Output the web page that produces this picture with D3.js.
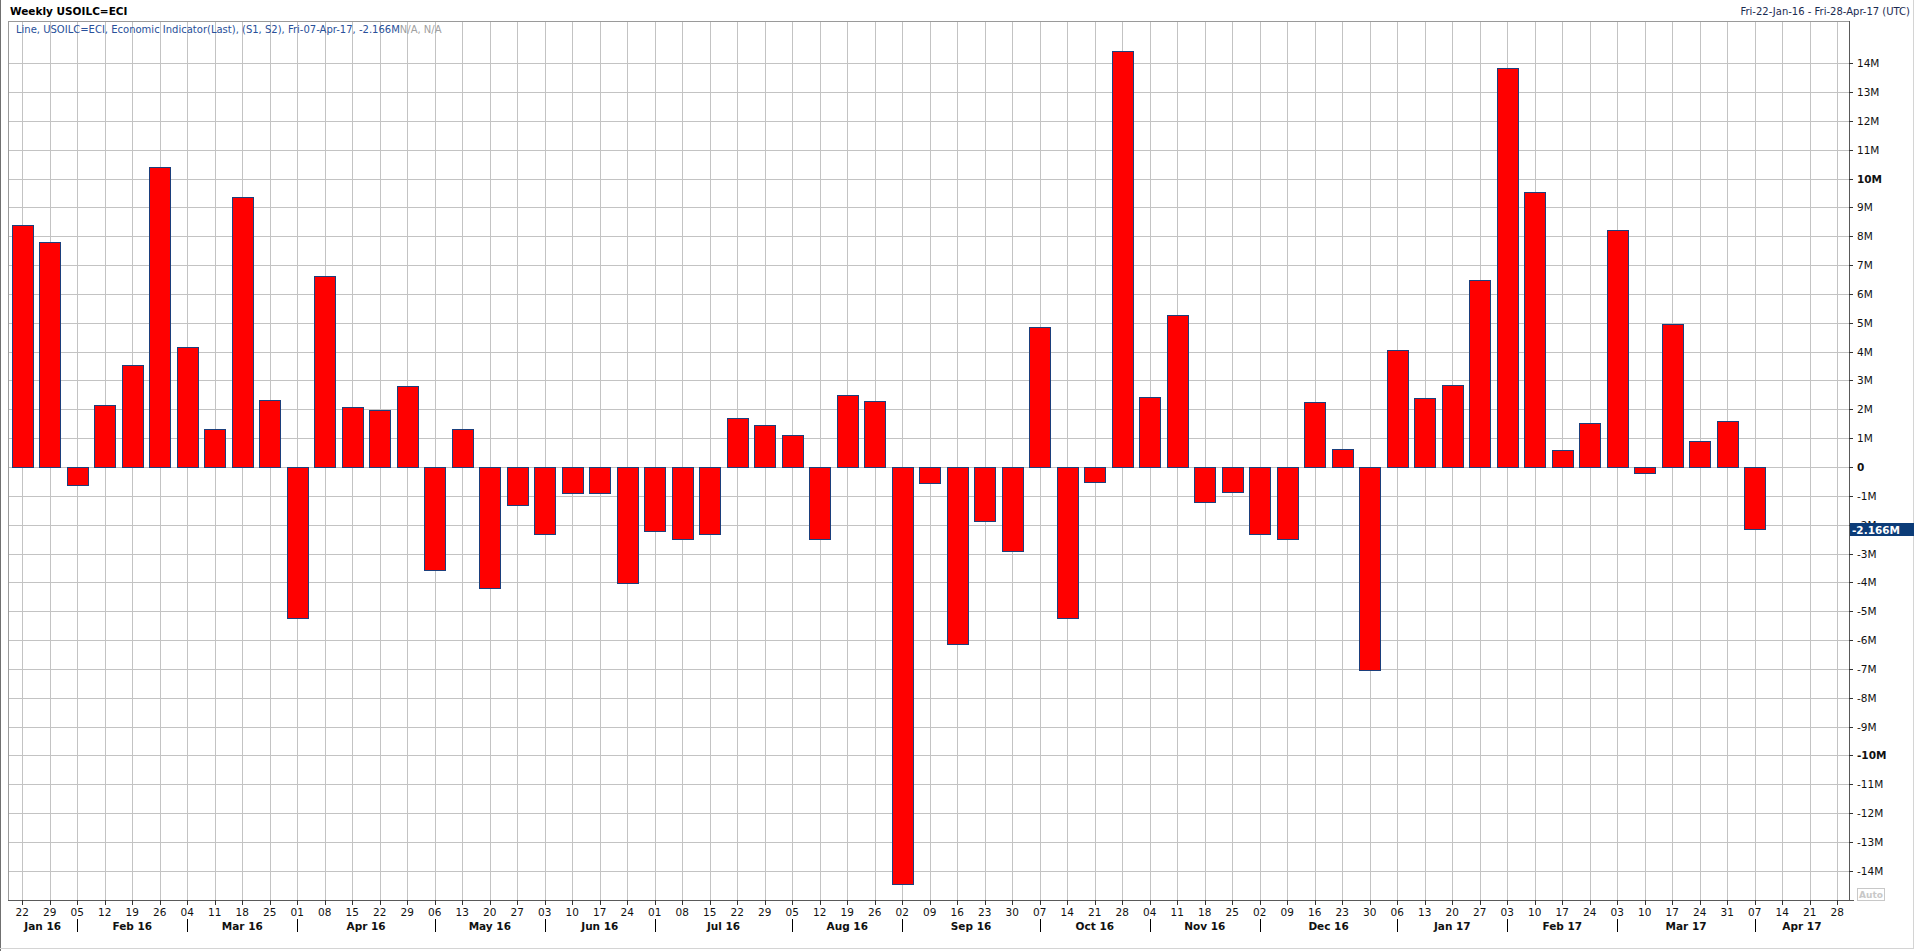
<!DOCTYPE html>
<html>
<head>
<meta charset="utf-8">
<script src="https://cdn.jsdelivr.net/npm/d3@7/dist/d3.min.js"></script>
<style>
  html, body { margin: 0; padding: 0; background: #fff; }
  svg { display: block; font-family: Tahoma, "DejaVu Sans", sans-serif; }
</style>
</head>
<body>
<svg id="chart"></svg>
<script>
// weekly release dates (Fridays)
const weeks = [
  '2016-01-22','2016-01-29','2016-02-05','2016-02-12','2016-02-19','2016-02-26',
  '2016-03-04','2016-03-11','2016-03-18','2016-03-25','2016-04-01','2016-04-08',
  '2016-04-15','2016-04-22','2016-04-29','2016-05-06','2016-05-13','2016-05-20',
  '2016-05-27','2016-06-03','2016-06-10','2016-06-17','2016-06-24','2016-07-01',
  '2016-07-08','2016-07-15','2016-07-22','2016-07-29','2016-08-05','2016-08-12',
  '2016-08-19','2016-08-26','2016-09-02','2016-09-09','2016-09-16','2016-09-23',
  '2016-09-30','2016-10-07','2016-10-14','2016-10-21','2016-10-28','2016-11-04',
  '2016-11-11','2016-11-18','2016-11-25','2016-12-02','2016-12-09','2016-12-16',
  '2016-12-23','2016-12-30','2017-01-06','2017-01-13','2017-01-20','2017-01-27',
  '2017-02-03','2017-02-10','2017-02-17','2017-02-24','2017-03-03','2017-03-10',
  '2017-03-17','2017-03-24','2017-03-31','2017-04-07'
];
// weekly change, millions of barrels
const values = [
  8.40, 7.81, -0.64, 2.16, 3.52, 10.39, 4.16, 1.32, 9.38, 2.33, -5.22, 6.62,
  2.08, 1.99, 2.80, -3.56, 1.32, -4.20, -1.32, -2.33, -0.89, -0.89, -4.03, -2.21,
  -2.50, -2.33, 1.70, 1.44, 1.10, -2.50, 2.50, 2.29, -14.47, -0.55, -6.15, -1.87,
  -2.93, 4.84, -5.22, -0.51, 14.43, 2.42, 5.26, -1.23, -0.85, -2.33, -2.50, 2.25,
  0.64, -7.04, 4.07, 2.38, 2.84, 6.49, 13.83, 9.55, 0.59, 1.53, 8.23, -0.21,
  4.96, 0.89, 1.61, -2.166
];
// extra empty weeks on the axis after the last bar
const tailWeeks = ['2017-04-14','2017-04-21','2017-04-28'];
const yTicks = d3.range(-14, 15);
const boldTicks = [-10, 0, 10];
const lastLabel = '-2.166M';
const title = 'Weekly USOILC=ECI';
const range = 'Fri-22-Jan-16 - Fri-28-Apr-17 (UTC)';
const legendMain = 'Line, USOILC=ECI, Economic Indicator(Last), (S1, S2), Fri-07-Apr-17, -2.166M';
const legendNA = 'N/A, N/A';

const W = 1916, H = 951;
const plot = {left: 8, top: 21, right: 1849, bottom: 900};
const parse = d3.utcParse('%Y-%m-%d');
const dates = weeks.map(parse);
const allDates = dates.concat(tailWeeks.map(parse));

const svg = d3.select('#chart').attr('width', W).attr('height', H);

const x = d3.scaleUtc()
  .domain([allDates[0], allDates[allDates.length - 1]])
  .range([22.3, 1837.3]);
const y = d3.scaleLinear().domain([-14, 14]).range([870.7, 63.3]);
const step = x(allDates[1]) - x(allDates[0]);
const barW = step * 0.75;

// frame
svg.append('line').attr('x1', 0.5).attr('x2', 0.5).attr('y1', 0).attr('y2', H)
  .attr('stroke', '#707070');
svg.append('line').attr('x1', 1913.5).attr('x2', 1913.5).attr('y1', 0).attr('y2', 949)
  .attr('stroke', '#d4d4d4');
svg.append('line').attr('x1', 0).attr('x2', 1914).attr('y1', 948.5).attr('y2', 948.5)
  .attr('stroke', '#d4d4d4');

// grid
const grid = svg.append('g').attr('stroke', '#c3c3c3').attr('stroke-width', 1);
grid.selectAll('line.v').data(allDates).enter().append('line').attr('class', 'v')
  .attr('x1', d => Math.round(x(d)) + 0.5).attr('x2', d => Math.round(x(d)) + 0.5)
  .attr('y1', plot.top).attr('y2', plot.bottom);
grid.selectAll('line.h').data(yTicks).enter().append('line').attr('class', 'h')
  .attr('x1', plot.left).attr('x2', plot.right)
  .attr('y1', d => Math.round(y(d)) + 0.5).attr('y2', d => Math.round(y(d)) + 0.5);

// plot box
svg.append('line').attr('x1', plot.left + 0.5).attr('x2', plot.left + 0.5)
  .attr('y1', plot.top).attr('y2', plot.bottom).attr('stroke', '#9a9a9a');
svg.append('line').attr('x1', plot.left).attr('x2', plot.right)
  .attr('y1', plot.top + 0.5).attr('y2', plot.top + 0.5).attr('stroke', '#9a9a9a');

// bars
svg.append('g').selectAll('rect').data(values).enter().append('rect')
  .attr('x', (d, i) => Math.round(x(dates[i]) - barW / 2) + 0.5)
  .attr('width', Math.round(barW))
  .attr('y', d => Math.round(y(Math.max(0, d))) + 0.5)
  .attr('height', d => Math.max(1, Math.round(Math.abs(y(d) - y(0)))))
  .attr('fill', '#ff0000')
  .attr('stroke', '#1c3f7c')
  .attr('stroke-width', 1);

// axes lines
svg.append('line').attr('x1', plot.right + 0.5).attr('x2', plot.right + 0.5)
  .attr('y1', plot.top).attr('y2', plot.bottom + 1).attr('stroke', '#5a5a5a');
svg.append('line').attr('x1', plot.left).attr('x2', plot.right + 5)
  .attr('y1', plot.bottom + 0.5).attr('y2', plot.bottom + 0.5).attr('stroke', '#5a5a5a');

// y axis
const yAxis = svg.append('g');
yAxis.selectAll('line').data(yTicks).enter().append('line')
  .attr('x1', plot.right).attr('x2', plot.right + 4)
  .attr('y1', d => Math.round(y(d)) + 0.5).attr('y2', d => Math.round(y(d)) + 0.5)
  .attr('stroke', '#333');
yAxis.selectAll('text').data(yTicks).enter().append('text')
  .attr('x', plot.right + 8).attr('y', d => y(d) + 4)
  .attr('font-size', 10.5)
  .attr('font-weight', d => boldTicks.includes(d) ? 'bold' : 'normal')
  .attr('fill', '#111')
  .text(d => d === 0 ? '0' : d + 'M');

// last value label, drawn over the -2M tick label as in the source chart
const yl = y(values[values.length - 1]);
svg.append('rect').attr('x', plot.right + 1).attr('y', Math.round(yl) - 6)
  .attr('width', 64).attr('height', 13).attr('fill', '#0c3c78');
svg.append('text').attr('x', plot.right + 3).attr('y', Math.round(yl) + 4.5)
  .attr('font-size', 10.5).attr('font-weight', 'bold').attr('fill', '#fff')
  .text(lastLabel);

// Auto button
svg.append('rect').attr('x', 1857.5).attr('y', 888.5).attr('width', 27).attr('height', 12)
  .attr('fill', '#fff').attr('stroke', '#c8c8c8');
svg.append('text').attr('x', 1871).attr('y', 898).attr('text-anchor', 'middle')
  .attr('font-size', 9).attr('font-weight', 'bold').attr('fill', '#c8c8c8').text('Auto');

// x axis ticks and day labels
const xAxis = svg.append('g');
xAxis.selectAll('line').data(allDates).enter().append('line')
  .attr('x1', d => Math.round(x(d)) + 0.5).attr('x2', d => Math.round(x(d)) + 0.5)
  .attr('y1', plot.bottom).attr('y2', plot.bottom + 5).attr('stroke', '#333');
xAxis.selectAll('text').data(allDates).enter().append('text')
  .attr('x', d => x(d)).attr('y', 916)
  .attr('text-anchor', 'middle').attr('font-size', 10.5).attr('fill', '#111')
  .text(d3.utcFormat('%d'));

// month separators and labels
const monthStarts = allDates.filter((d, i) => i > 0 && d.getUTCMonth() !== allDates[i - 1].getUTCMonth());
xAxis.selectAll('line.sep').data(monthStarts).enter().append('line').attr('class', 'sep')
  .attr('x1', d => Math.round(x(d)) + 0.5).attr('x2', d => Math.round(x(d)) + 0.5)
  .attr('y1', 919).attr('y2', 932).attr('stroke', '#000');
const bounds = [plot.left].concat(monthStarts.map(d => x(d)), [plot.right]);
const monthFirst = [allDates[0]].concat(monthStarts);
xAxis.selectAll('text.month').data(monthFirst).enter().append('text').attr('class', 'month')
  .attr('x', (d, i) => (bounds[i] + bounds[i + 1]) / 2).attr('y', 930)
  .attr('text-anchor', 'middle').attr('font-size', 10.5).attr('font-weight', 'bold')
  .attr('fill', '#111')
  .text(d3.utcFormat('%b %y'));

// header texts
svg.append('text').attr('x', 10).attr('y', 15).attr('font-size', 10.5)
  .attr('font-weight', 'bold').attr('fill', '#000').text(title);
svg.append('text').attr('x', 1910).attr('y', 15).attr('text-anchor', 'end')
  .attr('font-size', 10).attr('fill', '#1a2a50').text(range);
const leg = svg.append('text').attr('x', 16).attr('y', 33).attr('font-size', 10);
leg.append('tspan').attr('fill', '#28509a').text(legendMain);
leg.append('tspan').attr('fill', '#a0a0a0').text(legendNA);
</script>
</body>
</html>
